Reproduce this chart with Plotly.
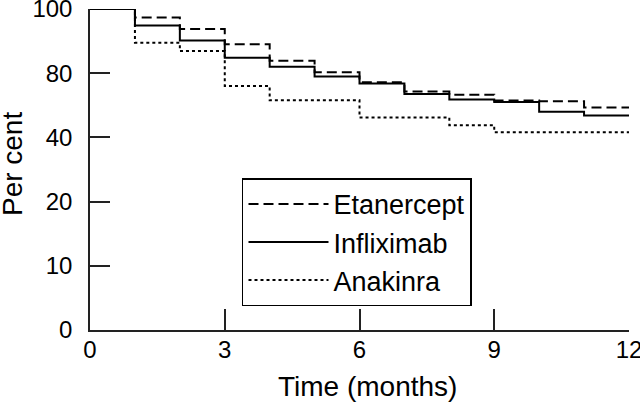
import plotly.graph_objects as go

months = list(range(0, 13))
etanercept = [100, 97.4, 93.8, 89.0, 83.9, 80.3, 77.2, 74.3, 73.3, 71.5, 71.3, 69.3, 69.3]
infliximab = [100, 94.9, 90.2, 84.8, 82.0, 79.0, 76.8, 73.5, 71.8, 71.0, 68.0, 66.8, 66.8]
anakinra = [100, 89.5, 86.9, 76.0, 71.6, 71.6, 66.2, 66.2, 63.8, 61.6, 61.6, 61.6, 61.6]

y_tickvals = [0, 20, 40, 60, 80, 100]
y_ticktext = ["0", "10", "20", "40", "80", "100"]
x_tickvals = [0, 3, 6, 9, 12]

FONT = "Liberation Sans, Arial, Helvetica, sans-serif"

fig = go.Figure()
series = [
    ("Etanercept", etanercept, "10px,5px"),
    ("Infliximab", infliximab, "solid"),
    ("Anakinra", anakinra, "3px,3px"),
]
for name, vals, dash in series:
    fig.add_trace(go.Scatter(
        x=months, y=vals, name=name, mode="lines",
        line=dict(shape="hv", color="black", width=2, dash=dash),
        cliponaxis=False,
    ))

fig.update_layout(
    width=640, height=410,
    margin=dict(l=90, r=11, t=9, b=80, autoexpand=False),
    paper_bgcolor="white", plot_bgcolor="white",
    font=dict(family=FONT, color="black", size=24),
    showlegend=True,
    legend=dict(
        x=0.282, y=0.4725, xanchor="left", yanchor="top",
        bordercolor="black", borderwidth=1.5, bgcolor="white",
        font=dict(size=27), itemwidth=80, tracegroupgap=0,
    ),
    xaxis=dict(
        range=[-0.0005, 12.0005], tickvals=x_tickvals, ticks="inside", ticklen=21,
        tickwidth=1.5, tickcolor="#222", showline=True, linecolor="#222",
        linewidth=1.5, showgrid=False, zeroline=False, automargin=False,
        tickfont=dict(size=24), ticklabelstandoff=-3, ticklabeloverflow="allow",
    ),
    yaxis=dict(
        range=[-0.01, 100.01], tickvals=y_tickvals, ticktext=y_ticktext,
        ticks="inside", ticklen=20, tickwidth=1.5, tickcolor="#222",
        showline=True, linecolor="#222", linewidth=1.5, showgrid=False,
        zeroline=False, automargin=False, tickfont=dict(size=24),
        ticklabelstandoff=11, ticklabeloverflow="allow",
    ),
    annotations=[
        dict(text="Per cent", xref="paper", yref="paper", x=-0.1447, y=0.517,
             xanchor="center", yanchor="middle", textangle=-90,
             showarrow=False, font=dict(size=28)),
        dict(text="Time (months)", xref="paper", yref="paper", x=0.514, y=-0.1745,
             xanchor="center", yanchor="middle",
             showarrow=False, font=dict(size=28)),
    ],
)

fig.write_html("out.html",
               config={"displayModeBar": False},
               post_script="document.body.style.margin='0';document.body.style.overflow='hidden';")
